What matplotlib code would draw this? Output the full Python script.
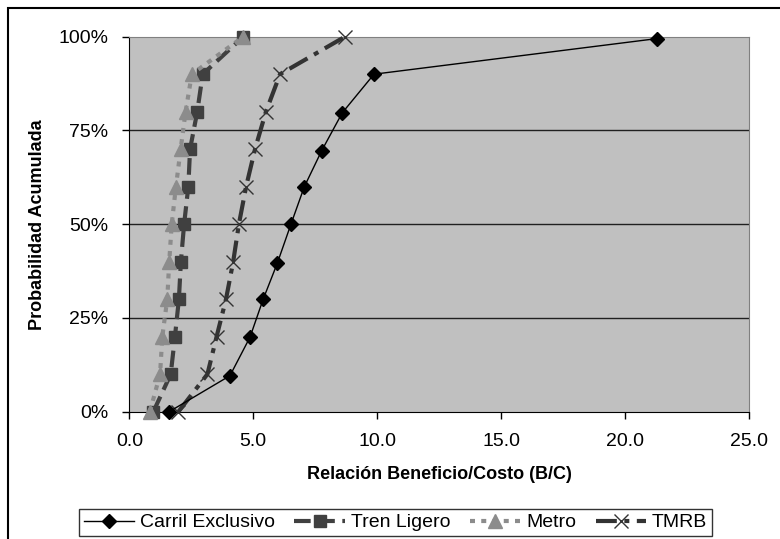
import matplotlib.pyplot as plt
import matplotlib.patches as patches
from matplotlib.ticker import FuncFormatter

plt.rcParams['font.family'] = ['Liberation Sans', 'DejaVu Sans']

# Probabilidad acumulada (lectura del grafico)
prob_carril = [0.0, 0.096, 0.199, 0.30, 0.396, 0.50, 0.60, 0.696, 0.797, 0.90, 0.995]
prob_otros = [0.0, 0.10, 0.20, 0.30, 0.40, 0.50, 0.60, 0.70, 0.80, 0.90, 1.0]

# Relacion B/C por alternativa
bc_carril = [1.61, 4.06, 4.87, 5.40, 5.97, 6.52, 7.06, 7.76, 8.59, 9.87, 21.29]
bc_tren = [0.97, 1.67, 1.84, 2.00, 2.08, 2.21, 2.38, 2.45, 2.74, 2.96, 4.60]
bc_metro = [0.83, 1.24, 1.33, 1.53, 1.61, 1.71, 1.88, 2.07, 2.27, 2.52, 4.60]
bc_tmrb = [1.98, 3.15, 3.52, 3.90, 4.19, 4.42, 4.71, 5.07, 5.51, 6.08, 8.70]

xticks = [0, 5, 10, 15, 20, 25]
yticks = [0, 0.25, 0.5, 0.75, 1.0]

fig = plt.figure(figsize=(7.8, 5.39), dpi=100)
ax = fig.add_axes([0.1658, 0.2362, 0.7945, 0.6957])
ax.set_facecolor('#c0c0c0')

# marco de la figura (cortado a la derecha y abajo como el original)
fig.patches.append(patches.Rectangle((8 / 780, -0.2), 1.5, 1.2 - 8 / 539,
                                     transform=fig.transFigure, fill=False,
                                     edgecolor='black', lw=1.5))

for y in [0.25, 0.5, 0.75]:
    ax.axhline(y, color='#202020', lw=1.0, zorder=1)

ax.plot(bc_carril, prob_carril, color='black', lw=1.0, marker='D', ms=7.5,
        mfc='black', mec='black', label='Carril Exclusivo', clip_on=False, zorder=5)
ax.plot(bc_tren, prob_otros, color='#404040', lw=3, dashes=(4, 1.8),
        marker='s', ms=9, mfc='#404040', mec='#404040',
        label='Tren Ligero', clip_on=False, zorder=3)
ax.plot(bc_metro, prob_otros, color='#8c8c8c', lw=3, dashes=(1.2, 1.5),
        marker='^', ms=10, mfc='#8c8c8c', mec='#8c8c8c',
        label='Metro', clip_on=False, zorder=4)
ax.plot(bc_tmrb, prob_otros, color='#333333', lw=3, dashes=(5, 1.8, 1.2, 1.8),
        marker='x', ms=10, mew=1.0, mec='#333333',
        label='TMRB', clip_on=False, zorder=4)

ax.set_xlim(0, 25)
ax.set_ylim(0, 1)
ax.set_xticks(xticks)
ax.set_yticks(yticks)
ax.xaxis.set_major_formatter(FuncFormatter(lambda v, p: '{:.1f}'.format(v)))
ax.yaxis.set_major_formatter(FuncFormatter(lambda v, p: '{:.0f}%'.format(v * 100)))
ax.tick_params(axis='both', labelsize=14, length=5, width=1, color='black',
               direction='out')
ax.tick_params(axis='y', pad=10)
ax.tick_params(axis='x', pad=10)

for s in ['top', 'right']:
    ax.spines[s].set_color('#808080')
for s in ['left', 'bottom']:
    ax.spines[s].set_color('black')

ax.set_xlabel('Relación Beneficio/Costo (B/C)', fontsize=13, fontweight='bold',
              labelpad=12)
ax.set_ylabel('Probabilidad Acumulada', fontsize=13, fontweight='bold',
              labelpad=9)

leg = fig.legend(loc='center', bbox_to_anchor=(0.507, 0.0306), ncol=4,
                 fontsize=14, frameon=True, fancybox=False, handlelength=2.6,
                 columnspacing=1.0, handletextpad=0.3, borderpad=0.25,
                 borderaxespad=0)
leg.get_frame().set_edgecolor('black')
leg.get_frame().set_linewidth(1.0)

fig.savefig('out.png', dpi=100)
